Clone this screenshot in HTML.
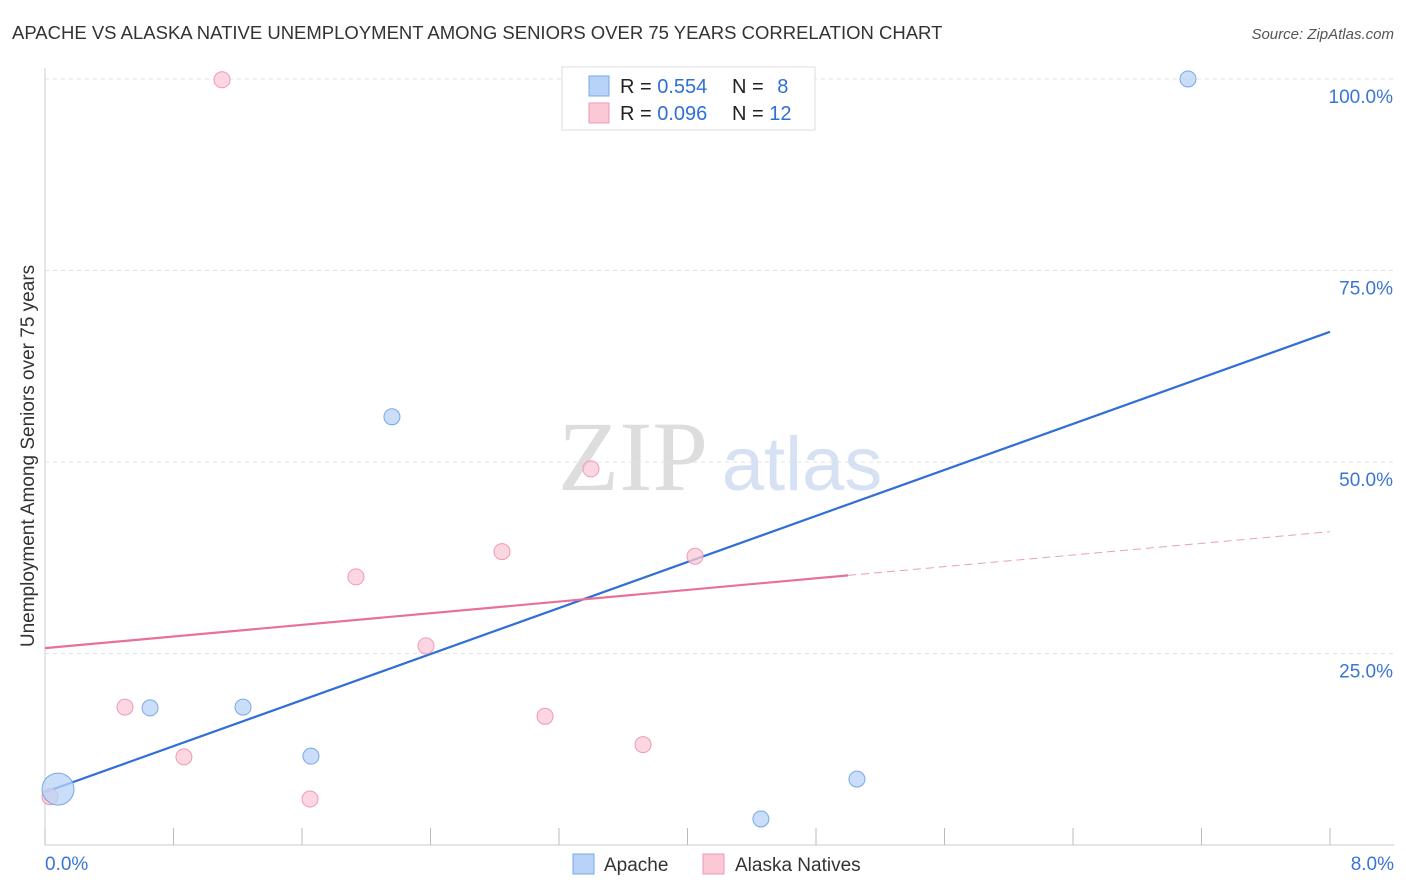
<!DOCTYPE html>
<html><head><meta charset="utf-8">
<style>
body{margin:0;background:#fff;font-family:"Liberation Sans",sans-serif;}
#wrap{position:relative;width:1406px;height:892px;overflow:hidden;}
</style></head>
<body>
<div id="wrap">
<svg id="svg" width="1406" height="892" xmlns="http://www.w3.org/2000/svg">
<text x="12" y="39" font-size="18.5" fill="#333">APACHE VS ALASKA NATIVE UNEMPLOYMENT AMONG SENIORS OVER 75 YEARS CORRELATION CHART</text>
<text x="1394" y="39" font-size="15" fill="#555" font-style="italic" text-anchor="end">Source: ZipAtlas.com</text>
<text x="34" y="456" font-size="19" fill="#333" text-anchor="middle" transform="rotate(-90 34 456)">Unemployment Among Seniors over 75 years</text>
<g>
<text x="633" y="490" font-size="100" fill="#ddd" font-family="Liberation Serif,serif" text-anchor="middle">ZIP</text>
<text x="802" y="490" font-size="76" fill="#d6e2f3" text-anchor="middle">atlas</text>
</g>
<g id="grid"></g>
<g id="axes"></g>
<g id="lines"></g>
<g id="pts"></g>
<g>
<rect x="562" y="67" width="253" height="63" fill="#fff" stroke="#ddd"/>
<rect x="589" y="76" width="20" height="20" fill="#b8d3f7" stroke="#7aa7e6"/>
<rect x="589" y="103" width="20" height="20" fill="#fbc8d6" stroke="#ee9ab3"/>
<text x="620" y="93" font-size="20" fill="#222">R = <tspan fill="#2f6fd6">0.554</tspan></text>
<text x="732" y="93" font-size="20" fill="#222">N = <tspan fill="#2f6fd6" dx="8">8</tspan></text>
<text x="620" y="120" font-size="20" fill="#222">R = <tspan fill="#2f6fd6">0.096</tspan></text>
<text x="732" y="120" font-size="20" fill="#222">N = <tspan fill="#2f6fd6">12</tspan></text>
</g>
<g>
<rect x="573" y="854" width="21" height="20" fill="#b8d3f7" stroke="#7aa7e6"/>
<text x="604" y="871" font-size="19" fill="#333">Apache</text>
<rect x="703" y="854" width="21" height="20" fill="#fbc8d6" stroke="#ee9ab3"/>
<text x="735" y="871" font-size="19" fill="#333">Alaska Natives</text>
</g>
</svg>
</div>
<script>
const apacheX=[0.081,0.654,1.233,1.656,2.16,4.457,5.055,7.116];
const apacheY=[7.3,17.9,18.0,11.6,55.9,3.4,8.6,100];
const apacheR=[16,8,8,8,8,8,8,8];
const alaskaX=[0.031,0.498,0.865,1.102,1.65,1.936,2.372,2.845,3.113,3.399,3.723,4.047];
const alaskaY=[6.3,18.0,11.5,99.9,6.0,35.0,26.0,38.3,16.8,49.1,13.1,37.7];
const apacheTrend=[6.9,67.0];
const alaskaTrend=[25.7,40.9];
const alaskaSolidEnd=5.0;
const yTicks=[25,50,75,100];
const yTickLabels=["25.0%","50.0%","75.0%","100.0%"];
const xTicks=[0,0.8,1.6,2.4,3.2,4.0,4.8,5.6,6.4,7.2,8.0];
const xEndLabels=["0.0%","8.0%"];
const NS="http://www.w3.org/2000/svg";
const X=v=>45+v/8*1285, Y=v=>845-v/100*766;
function mk(tag,attrs,parent){const e=document.createElementNS(NS,tag);for(const k in attrs)e.setAttribute(k,attrs[k]);parent.appendChild(e);return e;}
const grid=document.getElementById('grid'),axes=document.getElementById('axes'),lines=document.getElementById('lines'),pts=document.getElementById('pts');
yTicks.forEach((t,i)=>{
 const l=mk('line',{x1:45,x2:1394,y1:Y(t),y2:Y(t),stroke:'#e2e2e2','stroke-dasharray':'4 4'},grid);
 
 
 const tx=mk('text',{x:1393,y:Y(t)+24,'font-size':19,fill:'#3a75d6','text-anchor':'end'},axes);
 tx.textContent=yTickLabels[i];
 
 
});
const ya=mk('line',{x1:45,x2:45,y1:68,y2:845,stroke:'#ccc'},axes);


const xa=mk('line',{x1:45,x2:1394,y1:845,y2:845,stroke:'#ccc'},axes);


xTicks.forEach(t=>{
 const l=mk('line',{x1:X(t),x2:X(t),y1:828,y2:845,stroke:'#bbb'},axes);
 
 
});
[[0,'start',45],[8,'end',1394]].forEach((d,i)=>{
 const tx=mk('text',{x:d[2],y:870,'font-size':19,fill:'#3a75d6','text-anchor':d[1]},axes);
 tx.textContent=xEndLabels[i];
 
 
});
const yAt=(tr,x)=>tr[0]+(tr[1]-tr[0])*x/8;
let l1=mk('line',{x1:X(0),y1:Y(apacheTrend[0]),x2:X(8),y2:Y(apacheTrend[1]),stroke:'#2f6fd6','stroke-width':2.2},lines);


let l2=mk('line',{x1:X(0),y1:Y(alaskaTrend[0]),x2:X(alaskaSolidEnd),y2:Y(yAt(alaskaTrend,alaskaSolidEnd)),stroke:'#e8709a','stroke-width':2.2},lines);


let l3=mk('line',{x1:X(alaskaSolidEnd),y1:Y(yAt(alaskaTrend,alaskaSolidEnd)),x2:X(8),y2:Y(alaskaTrend[1]),stroke:'#e8a0b8','stroke-width':1,'stroke-dasharray':'8 5'},lines);


alaskaX.forEach((x,i)=>{
 const c=mk('circle',{cx:X(x),cy:Y(alaskaY[i]),r:8,fill:'#fbc8d6','fill-opacity':0.75,stroke:'#ee9ab3'},pts);
 
 
});
apacheX.forEach((x,i)=>{
 const c=mk('circle',{cx:X(x),cy:Y(apacheY[i]),r:apacheR[i],fill:'#b8d3f7','fill-opacity':0.75,stroke:'#7aa7e6'},pts);
 
 
});
</script>
</body></html>
